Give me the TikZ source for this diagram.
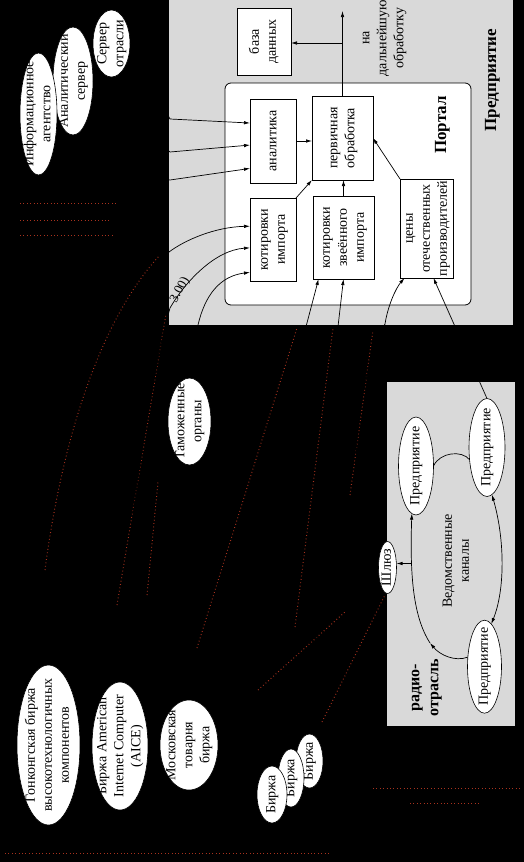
\documentclass[tikz,border=0pt]{standalone}
\usepackage{fontspec}
\setmainfont{Liberation Serif}
\usetikzlibrary{shapes.geometric,arrows.meta}
\definecolor{c000000}{RGB}{0,0,0}
\definecolor{cD9D9D9}{RGB}{217,217,217}
\definecolor{cA8321E}{RGB}{168,50,30}
\newcommand{\vtext}[1]{\rotatebox{90}{\begin{tabular}{@{}c@{}}#1\end{tabular}}}

\begin{document}
\begin{tikzpicture}[x=1pt,y=1pt,yscale=-1,inner sep=0pt,outer sep=0pt,
    box/.style={draw=black,fill=white,line width=0.8pt,font=\fontsize{14}{17}\selectfont},
    oval/.style={ellipse,draw=black,fill=white,line width=0.6pt},
    every label/.style={font=\fontsize{14}{17}\selectfont},
    txt/.style={font=\fontsize{14}{17}\selectfont},
    head/.style={font=\fontsize{17}{20}\selectfont\bfseries},
    link/.style={draw=black,line width=0.7pt},
    tip/.style={-{Latex[length=6pt,width=3.5pt]}},
    tips/.style={{Latex[length=6pt,width=3.5pt]}-{Latex[length=6pt,width=3.5pt]}},
    fringe/.style={draw=cA8321E,line width=1pt,dash pattern=on 0.8pt off 2.6pt}]
  \useasboundingbox (0,0) rectangle (524,862);
  \path[fill=c000000] (0,0) rectangle (524,862);
  \path[fill=cD9D9D9] (169,0) rectangle (513,325);
  \path[fill=cD9D9D9] (387,382) rectangle (515,726);

  \draw[fringe] (45,570) .. controls (62,440) and (100,320) .. (160,255);
  \draw[fringe] (117,605) -- (166,314);
  \draw[fringe] (147,595) -- (158,482);
  \draw[fringe] (197,648) -- (297,328);
  \draw[fringe] (295,627) -- (333,328);
  \draw[fringe] (350,495) -- (373,330);
  \draw[fringe] (322,722) -- (385,595);
  \draw[fringe] (258,690) -- (345,612);
  \draw[fringe] (20,203) -- (118,203);
  \draw[fringe] (20,220) -- (110,220);
  \draw[fringe] (20,235) -- (112,235);
  \draw[fringe] (5,853) -- (330,853);
  \draw[fringe] (373,788) -- (520,788);
  \draw[fringe] (410,803) -- (480,803);

  \node[box,rounded corners=6pt,minimum width=246pt,minimum height=222pt] (portal) at (348,194) {};
  \node[head] (portal-t) at (442,125) {\vtext{Портал}};
  \node[head] (firm-t) at (492,80) {\vtext{Предприятие}};
  \node[txt] (onward) at (383,38) {\vtext{на\\дальнейшую\\обработку}};

  \node[box,minimum width=54pt,minimum height=67pt] (baza) at (264,41.5) {\vtext{база\\данных}};
  \node[box,minimum width=46pt,minimum height=84pt] (analit) at (273,141) {\vtext{аналитика}};
  \node[box,minimum width=61pt,minimum height=84pt] (perv) at (342.5,138) {\vtext{первичная\\обработка}};
  \node[box,minimum width=46pt,minimum height=83pt] (kimp) at (273,239.5) {\vtext{котировки\\импорта}};
  \node[box,minimum width=61pt,minimum height=83pt] (kzv) at (343.5,237.5) {\vtext{котировки\\звеённого\\импорта}};
  \node[box,minimum width=53pt,minimum height=99pt] (ceny) at (426.5,228.5) {\vtext{цены\\отечественных\\производителей}};

  \node[oval,minimum width=37pt,minimum height=67pt,label={center:\vtext{Сервер\\отрасли}}] (srv) at (111.5,43.5) {};
  \node[oval,minimum width=40pt,minimum height=108pt,label={center:\vtext{Аналитический\\сервер}}] (ansrv) at (73,81) {};
  \node[oval,minimum width=37pt,minimum height=122pt,label={center:\vtext{Информационное\\агентство}}] (inf) at (38.5,114) {};
  \node[oval,minimum width=43pt,minimum height=87pt,label={center:\vtext{Таможенные\\органы}}] (tam) at (189.5,421.5) {};
  \node[oval,minimum width=63pt,minimum height=160pt,label={center:\vtext{Гонконгская биржа\\высокотехнологичных\\компонентов}}] (hk) at (48.5,745) {};
  \node[oval,minimum width=56pt,minimum height=128pt,label={center:\vtext{Биржа American\\Internet Computer\\(AICE)}}] (aice) at (120,746) {};
  \node[oval,minimum width=58pt,minimum height=90pt,label={center:\vtext{Московская\\товарня\\биржа}}] (mtb) at (189,745) {};
  \node[oval,minimum width=27pt,minimum height=54pt,label={center:\vtext{Биржа}}] (bir3) at (309.5,761) {};
  \node[oval,minimum width=26pt,minimum height=58pt,label={center:\vtext{Биржа}}] (bir2) at (291,778) {};
  \node[oval,minimum width=30pt,minimum height=57pt,label={center:\vtext{Биржа}}] (bir1) at (272,794.5) {};

  \node[oval,minimum width=35pt,minimum height=98pt,label={center:\vtext{Предприятие}}] (firmA) at (416,466) {};
  \node[oval,minimum width=36pt,minimum height=98pt,label={center:\vtext{Предприятие}}] (firmB) at (487,447.5) {};
  \node[oval,minimum width=34pt,minimum height=93pt,label={center:\vtext{Предприятие}}] (firmC) at (484.5,666.7) {};
  \node[oval,minimum width=18pt,minimum height=52pt,label={center:\vtext{Шлюз}}] (shluz) at (387.5,567.5) {};
  \node[txt] (vedkan) at (457,561) {\vtext{Ведомственные\\каналы}};
  \node[font=\fontsize{16}{19}\selectfont\bfseries] (radio) at (425,688) {\vtext{радио-\\отрасль}};
  \node[font=\fontsize{13}{15}\selectfont,rotate=62] (rate) at (180,290) {3.00)};

  \coordinate (onward-end) at (342.5,11);
  \coordinate (fork) at (342.5,43);
  \coordinate (in1) at (170,119);
  \coordinate (in2) at (170,152);
  \coordinate (in3) at (170,180);
  \coordinate (in4) at (169,252);
  \coordinate (in5) at (170,308);
  \coordinate (in6) at (198,325);
  \coordinate (in7) at (306.7,324);
  \coordinate (in8) at (338.3,324);
  \coordinate (in9) at (385,324);
  \coordinate (loopmid) at (430,643);
  \coordinate (loopgate) at (411.5,563.5);

  \draw[link,tip] (perv.north) -- (onward-end);
  \draw[link,tip] (fork) -- (fork -| baza.east);
  \draw[link,tip] (analit.east) -- (analit.east -| perv.west);
  \draw[link,tip] (kimp.north east) -- (perv.south west);
  \draw[link,tip] (kzv.north) -- (kzv.north |- perv.south);
  \draw[link,tip] (ceny.north west) -- (perv.east);
  \draw[link,tip] (srv.east) -- (in1) -- (analit.142);
  \draw[link,tip] (ansrv.east) -- (in2) -- (analit.190);
  \draw[link,tip] (inf.south east) -- (in3) -- (analit.230);
  \draw[link,tip] (hk.north) .. controls (55,520) and (110,320) .. (in4)
    .. controls (185,240) and (215,227) .. (kimp.150);
  \draw[link,tip] (aice.north) .. controls (122,560) and (150,380) .. (in5)
    .. controls (185,282) and (215,250) .. (kimp.200);
  \draw[link,tip] (tam.north) -- (in6) .. controls (205,295) and (220,276) .. (kimp.235);
  \draw[link,tip] (mtb.north) -- (in7) -- (kzv.239);
  \draw[link,tip] (bir3.north) -- (in8) -- (kzv.south);
  \draw[link,tip] (firmB.north) -- (ceny.278);
  \draw[link,tip] (shluz.west) .. controls (345,540) and (350,390) .. (in9)
    .. controls (388,305) and (396,288) .. (ceny.246);

  \draw[link] (firmA.east) .. controls (440,452) and (462,450) .. (firmB.215);
  \draw[link,tips] (firmB.276) .. controls (505,540) and (505,590) .. (firmC.81);
  \draw[link,tip] (firmC.150) .. controls (455,662) and (440,655) .. (loopmid);
  \draw[link,tip] (loopmid) .. controls (412,615) and (410,570) .. (firmA.265);
  \draw[link,tip] (loopgate) -- (loopgate -| shluz.east);
\end{tikzpicture}
\end{document}
